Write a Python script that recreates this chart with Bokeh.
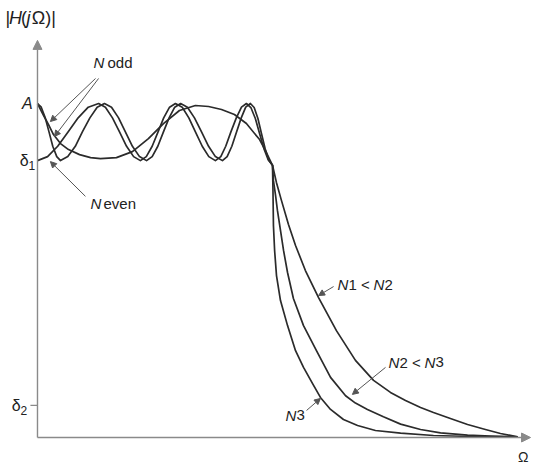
from bokeh.plotting import figure
from bokeh.models import Range1d, Arrow, NormalHead
from bokeh.core.properties import value
from bokeh.embed import file_html
from bokeh.resources import INLINE

# ---------------- data (normalised: Omega / Omega_c, |H| / A) ----------------
# N1 = 3 (odd, low order) passband
omega_pass_n1 = [0, 0.026, 0.047, 0.068, 0.098, 0.132, 0.179, 0.226, 0.268, 0.336, 0.404,
                 0.472, 0.536, 0.604, 0.672, 0.728, 0.783, 0.838, 0.889, 0.945, 0.970, 1.0]
mag_pass_n1 = [1.000, 0.964, 0.937, 0.907, 0.880, 0.862, 0.847, 0.838, 0.835, 0.838, 0.856,
               0.895, 0.940, 0.979, 0.994, 0.991, 0.982, 0.967, 0.940, 0.892, 0.859, 0.815]
omega_stop_n1 = [1.017, 1.038, 1.068, 1.098, 1.140, 1.196, 1.272, 1.353, 1.430, 1.502, 1.566,
                 1.630, 1.685, 1.757, 1.830, 1.906, 1.970, 2.043]
mag_stop_n1 = [0.763, 0.710, 0.638, 0.575, 0.500, 0.419, 0.320, 0.231, 0.171, 0.135, 0.111,
               0.090, 0.075, 0.057, 0.039, 0.024, 0.012, 0.002]

# N2 = 6 (even) passband
omega_pass_n2 = [0, 0.043, 0.086, 0.130, 0.173, 0.216, 0.260, 0.289, 0.319, 0.349, 0.379, 0.409,
                 0.438, 0.463, 0.488, 0.513, 0.537, 0.562, 0.587, 0.616, 0.644, 0.672, 0.701,
                 0.729, 0.757, 0.780, 0.801, 0.823, 0.846, 0.868, 0.889, 0.908, 0.927, 0.945,
                 0.964, 0.982, 1.0]
mag_pass_n2 = [0.829, 0.841, 0.872, 0.915, 0.957, 0.989, 1.000, 0.989, 0.957, 0.915, 0.872, 0.841,
               0.829, 0.841, 0.872, 0.915, 0.957, 0.989, 1.000, 0.989, 0.957, 0.915, 0.872,
               0.841, 0.829, 0.841, 0.872, 0.915, 0.957, 0.989, 1.000, 0.988, 0.955, 0.910,
               0.864, 0.831, 0.815]
omega_stop_n2 = [1.004, 1.013, 1.021, 1.034, 1.047, 1.064, 1.089, 1.132, 1.187, 1.247, 1.311,
                 1.353, 1.404, 1.472, 1.545, 1.630, 1.715, 1.830, 1.928, 2.043]
mag_stop_n2 = [0.769, 0.725, 0.680, 0.620, 0.560, 0.494, 0.416, 0.335, 0.260, 0.180, 0.125,
               0.103, 0.084, 0.062, 0.040, 0.024, 0.014, 0.007, 0.004, 0.002]

# N3 = 7 (odd) passband
omega_pass_n3 = [0, 0.016, 0.033, 0.049, 0.065, 0.082, 0.098, 0.129, 0.161, 0.191, 0.223, 0.254,
                 0.285, 0.315, 0.345, 0.374, 0.404, 0.434, 0.464, 0.488, 0.512, 0.536, 0.560,
                 0.584, 0.609, 0.638, 0.668, 0.698, 0.728, 0.757, 0.787, 0.807, 0.827, 0.847,
                 0.867, 0.886, 0.906, 0.922, 0.938, 0.953, 0.969, 0.984, 1.0]
mag_pass_n3 = [1.000, 0.989, 0.957, 0.915, 0.872, 0.841, 0.829, 0.841, 0.872, 0.915, 0.957, 0.989,
               1.000, 0.989, 0.957, 0.915, 0.872, 0.841, 0.829, 0.841, 0.872, 0.915, 0.957,
               0.989, 1.000, 0.989, 0.957, 0.915, 0.872, 0.841, 0.829, 0.841, 0.872, 0.915,
               0.957, 0.989, 1.000, 0.988, 0.955, 0.910, 0.864, 0.831, 0.815]
omega_stop_n3 = [1.002, 1.004, 1.009, 1.017, 1.034, 1.064, 1.098, 1.132, 1.170, 1.204, 1.247,
                 1.302, 1.362, 1.438, 1.545, 1.685, 1.843, 2.043]
mag_stop_n3 = [0.740, 0.635, 0.560, 0.485, 0.410, 0.335, 0.260, 0.210, 0.162, 0.120, 0.084,
               0.054, 0.036, 0.021, 0.013, 0.006, 0.003, 0.002]

# axis levels
level_A = 1.0
level_d1 = 0.829
level_d2 = 0.096
omega_axis_end = 2.098
mag_axis_end = 1.189

# ---------------- figure ----------------
FONT = value("Liberation Sans Narrow, Liberation Sans, Arial, sans-serif")
CURVE = "#2b2b2b"
AXIS = "#8a8a8a"
PTR = "#555555"

p = figure(width=533, height=468, x_range=Range1d(-0.1574, 2.1106),
           y_range=Range1d(-0.0928, 1.3084), output_backend="svg",
           toolbar_location=None, min_border=0,
           x_axis_location=None, y_axis_location=None)
p.grid.visible = False
p.outline_line_color = None
p.background_fill_color = "white"

# axes with arrow heads
p.add_layout(Arrow(x_start=0, y_start=0, x_end=0, y_end=mag_axis_end,
                   line_color=AXIS, line_width=1.4,
                   end=NormalHead(size=9, fill_color=AXIS, line_color=AXIS)))
p.add_layout(Arrow(x_start=0, y_start=0, x_end=omega_axis_end, y_end=0,
                   line_color=AXIS, line_width=1.4,
                   end=NormalHead(size=9, fill_color=AXIS, line_color=AXIS)))
# delta2 tick
p.line([-0.03, 0], [level_d2, level_d2], line_color=AXIS, line_width=1.3)

# curves
for op, mp, os_, ms in [(omega_pass_n1, mag_pass_n1, omega_stop_n1, mag_stop_n1),
                        (omega_pass_n2, mag_pass_n2, omega_stop_n2, mag_stop_n2),
                        (omega_pass_n3, mag_pass_n3, omega_stop_n3, mag_stop_n3)]:
    p.line(op + os_, mp + ms, line_color=CURVE, line_width=1.7, line_join="round")

# pointer arrows
pointers = [
    ((0.247, 1.075), (0.055, 0.946)),
    ((0.260, 1.075), (0.072, 0.901)),
    ((0.204, 0.722), (0.055, 0.826)),
    ((1.260, 0.452), (1.196, 0.425)),
    ((1.481, 0.210), (1.340, 0.129)),
    ((1.145, 0.081), (1.204, 0.117)),
]
for (xs, ys), (xe, ye) in pointers:
    p.add_layout(Arrow(x_start=xs, y_start=ys, x_end=xe, y_end=ye,
                       line_color=PTR, line_width=1.0,
                       end=NormalHead(size=6, fill_color=PTR, line_color=PTR)))

def txt(x, y, s, size="15px", style="normal", align="left"):
    p.text(x=[x], y=[y], text=[s], text_font=FONT, text_font_size=value(size),
           text_font_style=style, text_baseline="middle", text_align=align,
           text_color="#222222")

# y-axis title |H(jΩ)|
txt(-0.136, 1.257, "|", "18px")
txt(-0.121, 1.257, "H", "18px", "italic")
txt(-0.070, 1.257, "(", "18px")
txt(-0.047, 1.257, "j", "18px", "italic")
txt(-0.024, 1.257, "Ω)|", "18px")

# level labels
txt(-0.021, level_A, "A", "16px", "italic", "right")
txt(-0.038, level_d1, "δ", "16px", "normal", "right")
txt(-0.038, level_d1 - 0.016, "1", "12px")
txt(-0.072, level_d2, "δ", "16px", "normal", "right")
txt(-0.072, level_d2 - 0.016, "2", "12px")

# annotations
txt(0.238, 1.123, "N", "15px", "italic")
txt(0.298, 1.123, "odd", "15px")
txt(0.226, 0.701, "N", "15px", "italic")
txt(0.281, 0.701, "even", "15px")

txt(1.277, 0.458, "N", "15px", "italic")
txt(1.323, 0.458, "1 <", "15px")
txt(1.430, 0.458, "N", "15px", "italic")
txt(1.477, 0.458, "2", "15px")

txt(1.494, 0.225, "N", "15px", "italic")
txt(1.540, 0.225, "2 <", "15px")
txt(1.647, 0.225, "N", "15px", "italic")
txt(1.694, 0.225, "3", "15px")

txt(1.055, 0.066, "N", "15px", "italic")
txt(1.102, 0.066, "3", "15px")

txt(2.045, -0.058, "Ω", "14px")

open("out.html", "w").write(file_html(p, INLINE))
